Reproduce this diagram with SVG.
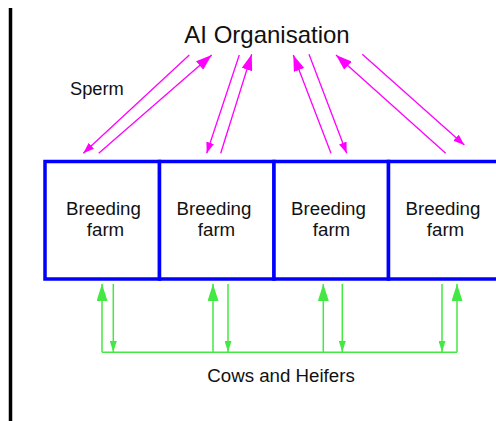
<svg xmlns="http://www.w3.org/2000/svg" width="496" height="421" viewBox="0 0 496 421">
  <style>
    text { font-family: "Liberation Sans", Arial, sans-serif; fill: #111; }
    .farm { stroke: #0000ff; stroke-width: 3.5; fill: #fff; }
    .lbl { font-size: 18.7px; text-anchor: middle; }
    .mag { stroke: #ff00ff; stroke-width: 1.3; fill: none; }
    .grn { stroke: #44e844; stroke-width: 1.5; fill: none; }
  </style>
  <defs>
    <marker id="magBig" markerUnits="userSpaceOnUse" markerWidth="16" markerHeight="11" refX="16" refY="5.5" orient="auto">
      <path d="M0,0 L16,5.5 L0,11 z" fill="#ff00ff"/>
    </marker>
    <marker id="magSmall" markerUnits="userSpaceOnUse" markerWidth="11" markerHeight="8" refX="11" refY="4" orient="auto">
      <path d="M0,0 L11,4 L0,8 z" fill="#ff00ff"/>
    </marker>
    <marker id="grnBig" markerUnits="userSpaceOnUse" markerWidth="17" markerHeight="11" refX="17" refY="5.5" orient="auto">
      <path d="M0,0 L17,5.5 L0,11 z" fill="#44e844"/>
    </marker>
    <marker id="grnSmall" markerUnits="userSpaceOnUse" markerWidth="11" markerHeight="7" refX="11" refY="3.5" orient="auto">
      <path d="M0,0 L11,3.5 L0,7 z" fill="#44e844"/>
    </marker>
  </defs>

  <rect width="496" height="421" fill="#fff"/>
  <line x1="10.5" y1="8" x2="10.5" y2="421" stroke="#000" stroke-width="3.5"/>

  <g id="ai-organisation">
    <text x="267" y="43" font-size="24" text-anchor="middle">AI Organisation</text>
  </g>

  <g id="farm1">
    <rect class="farm" x="45" y="161.5" width="114.5" height="117.5"/>
    <text class="lbl" x="103.5" y="215">Breeding</text>
    <text class="lbl" x="105.5" y="236">farm</text>
  </g>
  <g id="farm2">
    <rect class="farm" x="159.5" y="161.5" width="114.5" height="117.5"/>
    <text class="lbl" x="214" y="215">Breeding</text>
    <text class="lbl" x="216.5" y="236">farm</text>
  </g>
  <g id="farm3">
    <rect class="farm" x="274" y="161.5" width="114.5" height="117.5"/>
    <text class="lbl" x="328.5" y="215">Breeding</text>
    <text class="lbl" x="331.5" y="236">farm</text>
  </g>
  <g id="farm4">
    <rect class="farm" x="388.5" y="161.5" width="114.5" height="117.5"/>
    <text class="lbl" x="443" y="215">Breeding</text>
    <text class="lbl" x="445.5" y="236">farm</text>
  </g>

  <g id="connectors">
    <!-- sperm flows -->
    <line class="mag" x1="189.3" y1="55" x2="83.3" y2="153.3" marker-end="url(#magSmall)"/>
    <line class="mag" x1="98.7" y1="153.3" x2="211.7" y2="55" marker-end="url(#magBig)"/>
    <line class="mag" x1="239.3" y1="55" x2="206.7" y2="153.3" marker-end="url(#magSmall)"/>
    <line class="mag" x1="220.7" y1="153.3" x2="251.7" y2="54.3" marker-end="url(#magBig)"/>
    <line class="mag" x1="331" y1="153.3" x2="293.3" y2="55" marker-end="url(#magBig)"/>
    <line class="mag" x1="309" y1="54.3" x2="346.7" y2="153.3" marker-end="url(#magSmall)"/>
    <line class="mag" x1="445.7" y1="153.3" x2="336" y2="55" marker-end="url(#magBig)"/>
    <line class="mag" x1="362.3" y1="54.3" x2="464.3" y2="145" marker-end="url(#magSmall)"/>

    <!-- cows and heifers -->
    <line class="grn" x1="102" y1="352.3" x2="457" y2="352.3"/>
    <line class="grn" x1="102" y1="352.3" x2="102" y2="284" marker-end="url(#grnBig)"/>
    <line class="grn" x1="113.3" y1="284" x2="113.3" y2="352" marker-end="url(#grnSmall)"/>
    <line class="grn" x1="213" y1="352.3" x2="213" y2="284" marker-end="url(#grnBig)"/>
    <line class="grn" x1="228" y1="284" x2="228" y2="352" marker-end="url(#grnSmall)"/>
    <line class="grn" x1="323.3" y1="352.3" x2="323.3" y2="284" marker-end="url(#grnBig)"/>
    <line class="grn" x1="342.3" y1="284" x2="342.3" y2="352" marker-end="url(#grnSmall)"/>
    <line class="grn" x1="442" y1="284" x2="442" y2="352" marker-end="url(#grnSmall)"/>
    <line class="grn" x1="457" y1="352.3" x2="457" y2="284" marker-end="url(#grnBig)"/>

    <text x="70" y="95" font-size="18.3">Sperm</text>
    <text x="281" y="382" font-size="18.7" text-anchor="middle">Cows and Heifers</text>
  </g>
</svg>
